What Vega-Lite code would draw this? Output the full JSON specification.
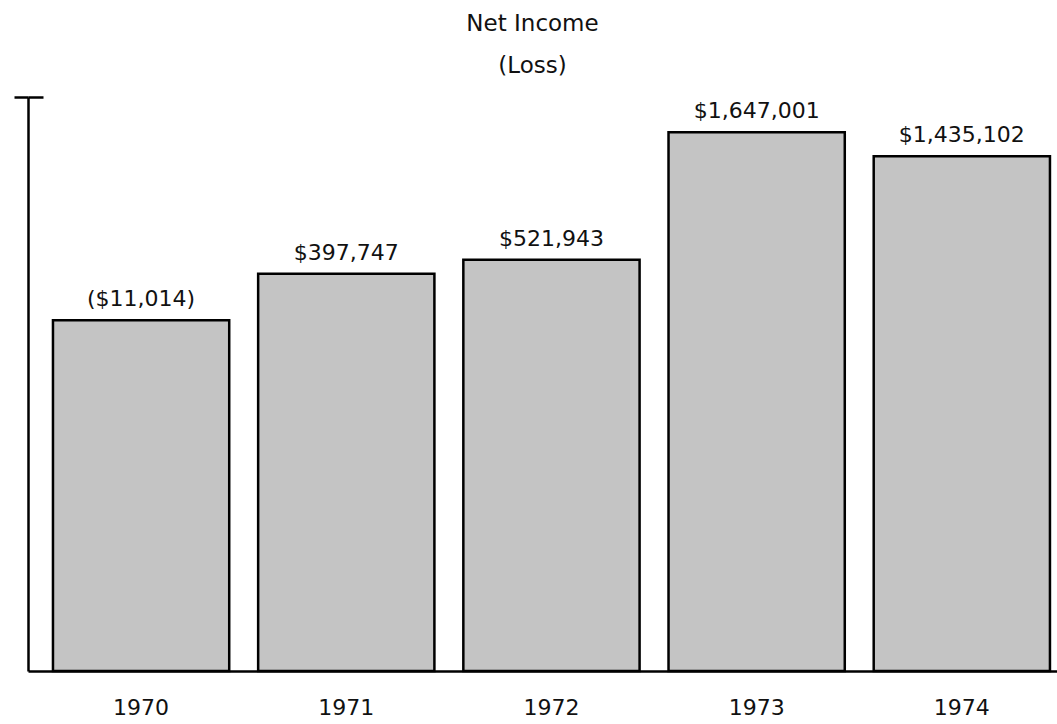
{
  "$schema": "https://vega.github.io/schema/vega-lite/v6.json",
  "width": 1029,
  "height": 574,
  "autosize": {"type": "none"},
  "padding": {"left": 28, "top": 97, "right": 0, "bottom": 53},
  "background": "white",
  "title": {
    "text": ["Net Income", "(Loss)"],
    "fontSize": 23,
    "font": "DejaVu Sans",
    "fontWeight": "normal",
    "color": "#111",
    "lineHeight": 42,
    "offset": 18,
    "anchor": "middle",
    "dx": -10
  },
  "config": {
    "view": {"stroke": null},
    "axis": {"grid": false}
  },
  "data": {
    "values": [
      {"year": "1970", "income": -11014, "label": "($11,014)"},
      {"year": "1971", "income": 397747, "label": "$397,747"},
      {"year": "1972", "income": 521943, "label": "$521,943"},
      {"year": "1973", "income": 1647001, "label": "$1,647,001"},
      {"year": "1974", "income": 1435102, "label": "$1,435,102"}
    ]
  },
  "encoding": {
    "x": {
      "field": "year",
      "type": "nominal",
      "scale": {"paddingInner": 0.141, "paddingOuter": 0.078, "align": 0.78},
      "axis": {
        "title": null,
        "labelAngle": 0,
        "ticks": false,
        "labelPadding": 26,
        "labelFont": "DejaVu Sans",
        "labelFontSize": 22,
        "labelColor": "#111",
        "domainColor": "black",
        "domainWidth": 2.5
      }
    }
  },
  "layer": [
    {
      "mark": {"type": "bar", "fill": "#c4c4c4", "stroke": "black", "strokeWidth": 2.5},
      "encoding": {
        "y": {
          "field": "income",
          "type": "quantitative",
          "scale": {"domain": [-3104700, 1956800], "zero": false, "nice": false},
          "axis": {
            "orient": "left",
            "title": null,
            "labels": false,
            "values": [1956800],
            "tickSize": 14,
            "tickColor": "black",
            "tickWidth": 2.5,
            "domainColor": "black",
            "domainWidth": 2.5
          }
        },
        "y2": {"datum": -3104700}
      }
    },
    {
      "mark": {"type": "text", "font": "DejaVu Sans", "fontSize": 22, "color": "#111", "baseline": "alphabetic", "dy": -14},
      "encoding": {
        "y": {
          "field": "income",
          "type": "quantitative",
          "scale": {"domain": [-3104700, 1956800], "zero": false, "nice": false},
          "axis": {
            "orient": "left",
            "offset": -15,
            "title": null,
            "labels": false,
            "domain": false,
            "values": [1956800],
            "tickSize": 15,
            "tickColor": "black",
            "tickWidth": 2.5
          }
        },
        "text": {"field": "label"}
      }
    }
  ],
  "resolve": {"axis": {"y": "independent"}}
}
